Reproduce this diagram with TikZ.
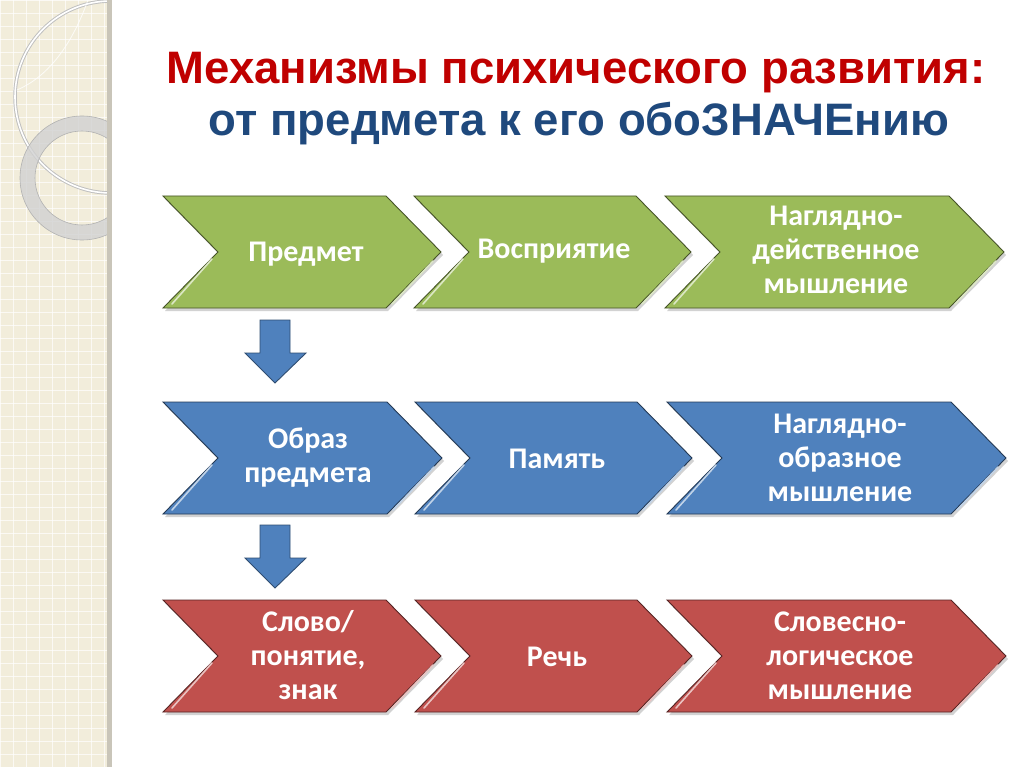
\documentclass[tikz,border=0pt]{standalone}
\usepackage{fontspec}
\setmainfont{Liberation Sans}
\newfontfamily\cfont{Carlito}
\usetikzlibrary{shadows}
\definecolor{tred}{HTML}{C00000}
\definecolor{tblue}{HTML}{1F497D}
\definecolor{cg}{HTML}{9BBB59}
\definecolor{cb}{HTML}{4F81BD}
\definecolor{cr}{HTML}{C0504D}
\definecolor{beige}{HTML}{F2EDDB}
\definecolor{edgegrey}{HTML}{C9C5B9}
\tikzset{
  lbl/.style={text=white, font=\cfont\bfseries\fontsize{30}{34}\selectfont, align=center, inner sep=0pt},
  ttl/.style={font=\bfseries\fontsize{45.5}{50}\selectfont, inner sep=0pt, anchor=base},
  chevbody/.style={draw=#1!45!black, fill=#1, line width=0.9pt, line join=miter,
     drop shadow={shadow xshift=2pt, shadow yshift=-3pt, opacity=0.35}},
  hilite/.style={draw=#1!35!white, line width=1.6pt, line cap=round},
  downarrow/.style={draw=cb!60!black, fill=cb, line width=0.9pt, line join=miter}
}
% x0, x1, y0, y1, colour
\newcommand\mychev[5]{%
  \path[chevbody=#5] (#1,#3) -- (#2-55,#3) -- (#2,{(#3+#4)/2}) -- (#2-55,#4) -- (#1,#4) -- (#1+55,{(#3+#4)/2}) -- cycle;
  \draw[hilite=#5] (#1+55-6,{(#3+#4)/2+7}) -- (#1+9,#4-4);
  \draw[hilite=#5] (#2-8,{(#3+#4)/2+9}) -- (#2-55+6,#4-4);
}
\begin{document}
\begin{tikzpicture}[x=1pt,y=-1pt]
\useasboundingbox (0,0) rectangle (1024,767);
\fill[white] (0,0) rectangle (1024,767);
% left decorative strip
\fill[beige] (0,0) rectangle (108,767);
\foreach \g in {0,13,...,104} {\draw[white,opacity=0.7,line width=0.8pt] (\g,0) -- (\g,767);}
\foreach \g in {0,13,...,767} {\draw[white,opacity=0.7,line width=0.8pt] (0,\g) -- (108,\g);}
\begin{scope}
  \clip (0,0) rectangle (108,767);
  \draw[black!25,line width=3.5pt] (111,97) circle[radius=96];
  \draw[white,line width=1.6pt] (111,97) circle[radius=96];
  \draw[white,opacity=0.8,line width=0.8pt] (88,0) .. controls (70,50) and (45,78) .. (17,90);
  \fill[black!18,opacity=0.8,even odd rule] (82,178) circle[radius=62] (82,178) circle[radius=47];
  \draw[black!30,line width=0.6pt] (82,178) circle[radius=62] (82,178) circle[radius=47];
\end{scope}
\fill[edgegrey] (107,0) rectangle (112,767);
% title
\node[ttl, text=tred] (t1) at (576,84) {Механизмы психического развития:};
\node[ttl, text=tblue] (t2) at (579,136) {от предмета к его обоЗНАЧЕнию};
% chevrons
\mychev{163}{441}{196}{308}{cg}
\mychev{414}{691}{196}{308}{cg}
\mychev{665}{1004}{196}{308}{cg}
\mychev{163}{442}{402}{514}{cb}
\mychev{415}{692}{402}{514}{cb}
\mychev{667}{1006}{402}{514}{cb}
\mychev{163}{441}{600}{712}{cr}
\mychev{415}{692}{600}{712}{cr}
\mychev{667}{1006}{600}{712}{cr}
% labels
\node[lbl] (a1) at (306,254) {Предмет};
\node[lbl] (a2) at (554,251) {Восприятие};
\node[lbl] (a3) at (836,250) {Наглядно-\\действенное\\мышление};
\node[lbl] (b1) at (308,458) {Образ\\предмета};
\node[lbl] (b2) at (557,459) {Память};
\node[lbl] (b3) at (840,458) {Наглядно-\\образное\\мышление};
\node[lbl] (c1) at (308,655) {Слово/\\понятие,\\знак};
\node[lbl] (c2) at (557,657) {Речь};
\node[lbl] (c3) at (840,656) {Словесно-\\логическое\\мышление};
% down arrows
\path[downarrow] (260,320) -- (290,320) -- (290,353) -- (306,353) -- (275,383) -- (245,353) -- (260,353) -- cycle;
\path[downarrow] (260,525) -- (290,525) -- (290,558) -- (306,558) -- (275,588) -- (245,558) -- (260,558) -- cycle;
\end{tikzpicture}
\end{document}
